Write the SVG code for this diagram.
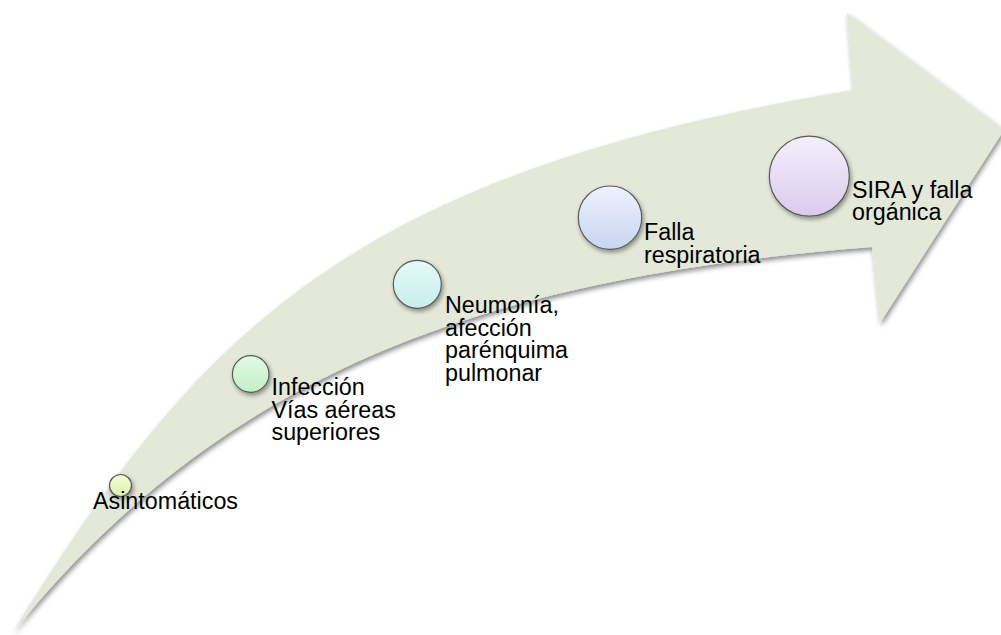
<svg xmlns="http://www.w3.org/2000/svg" width="1001" height="635" viewBox="0 0 1001 635">
<defs>
<filter id="shadow" x="-10%" y="-10%" width="120%" height="130%">
<feDropShadow dx="1.5" dy="3" stdDeviation="2.5" flood-color="#000" flood-opacity="0.45"/>
</filter>
<filter id="cshadow" x="-30%" y="-30%" width="160%" height="160%">
<feDropShadow dx="1.5" dy="2.5" stdDeviation="2" flood-color="#000" flood-opacity="0.4"/>
</filter>
<linearGradient id="g1" x1="0" y1="0" x2="0" y2="1"><stop offset="0" stop-color="#f4fbd6"/><stop offset="1" stop-color="#dcf2a8"/></linearGradient>
<linearGradient id="g2" x1="0" y1="0" x2="0" y2="1"><stop offset="0" stop-color="#e4fae6"/><stop offset="1" stop-color="#c2efc8"/></linearGradient>
<linearGradient id="g3" x1="0" y1="0" x2="0" y2="1"><stop offset="0" stop-color="#e6f9f8"/><stop offset="1" stop-color="#c6efea"/></linearGradient>
<linearGradient id="g4" x1="0" y1="0" x2="0" y2="1"><stop offset="0" stop-color="#eef2fc"/><stop offset="1" stop-color="#c8d5f1"/></linearGradient>
<linearGradient id="g5" x1="0" y1="0" x2="0" y2="1"><stop offset="0" stop-color="#f3effb"/><stop offset="1" stop-color="#dacbee"/></linearGradient>
</defs>
<style>
.lbl{font-family:"Liberation Sans",Arial,sans-serif;font-size:23.3px;fill:#000;}
.stage{stroke:#5a5a5a;stroke-width:1.2;filter:url(#cshadow);}
</style>
<g id="arrow">
<path d="M12,633 C193.5,341.5 338,175 853,90 L847,13 L1004,130 L880,323 L872,247 C492,277 227,368 12,633 Z" fill="#e3e8d9" filter="url(#shadow)"/>
</g>
<g id="n1"><circle class="stage" cx="120.5" cy="485.5" r="11" fill="url(#g1)"/><text class="lbl" x="93" y="509">Asintomáticos</text></g>
<g id="n2"><circle class="stage" cx="250.7" cy="374" r="18.3" fill="url(#g2)"/><text class="lbl" x="271.5" y="395">Infección<tspan x="271.5" dy="22.7">Vías aéreas</tspan><tspan x="271.5" dy="22.7">superiores</tspan></text></g>
<g id="n3"><circle class="stage" cx="417.3" cy="284.3" r="24" fill="url(#g3)"/><text class="lbl" x="445" y="313">Neumonía,<tspan x="445" dy="22.6">afección</tspan><tspan x="445" dy="22.6">parénquima</tspan><tspan x="445" dy="22.6">pulmonar</tspan></text></g>
<g id="n4"><circle class="stage" cx="610" cy="217.7" r="31.7" fill="url(#g4)"/><text class="lbl" x="644" y="240">Falla<tspan x="644" dy="22.5">respiratoria</tspan></text></g>
<g id="n5"><circle class="stage" cx="809.3" cy="176.2" r="40" fill="url(#g5)"/><text class="lbl" x="852" y="197.5">SIRA y falla<tspan x="852" dy="22.5">orgánica</tspan></text></g>
<g id="connectors"></g>
</svg>
